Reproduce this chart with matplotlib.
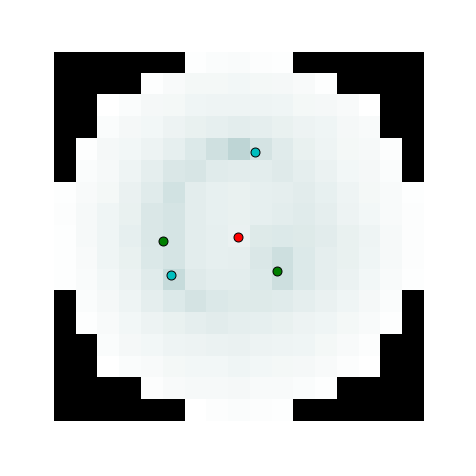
import numpy as np
import matplotlib
matplotlib.use('Agg')
import matplotlib.pyplot as plt

# grid density (None = outside the circle)
X = None
density_rows = [
    [X, X, X, X, X, X, 2, 5, 6, 3, 2, X, X, X, X, X, X],
    [X, X, X, X, 2, 7, 11, 12, 13, 12, 10, 7, 2, X, X, X, X],
    [X, X, 0, 5, 10, 11, 15, 17, 17, 17, 15, 11, 10, 7, 1, X, X],
    [X, X, 5, 10, 13, 19, 22, 25, 28, 27, 23, 19, 15, 10, 7, X, X],
    [X, 2, 10, 13, 18, 25, 34, 48, 65, 43, 31, 22, 17, 12, 9, 3, X],
    [X, 5, 9, 17, 27, 37, 40, 31, 29, 28, 32, 26, 20, 13, 10, 5, X],
    [2, 7, 12, 21, 30, 45, 28, 24, 23, 25, 27, 29, 24, 17, 12, 8, 2],
    [3, 9, 15, 23, 37, 42, 28, 24, 23, 25, 28, 31, 26, 19, 13, 8, 3],
    [2, 9, 15, 25, 37, 41, 28, 25, 21, 33, 35, 33, 29, 23, 17, 9, 3],
    [2, 7, 15, 23, 36, 41, 28, 25, 27, 37, 49, 35, 27, 22, 15, 9, 3],
    [2, 6, 13, 20, 30, 56, 32, 28, 28, 35, 50, 35, 27, 20, 13, 7, 2],
    [X, 5, 10, 17, 26, 34, 43, 36, 33, 33, 30, 26, 21, 15, 10, 5, X],
    [X, 2, 7, 13, 19, 23, 27, 29, 27, 25, 23, 19, 15, 11, 7, 2, X],
    [X, X, 5, 10, 13, 17, 19, 20, 21, 19, 17, 15, 12, 8, 3, X, X],
    [X, X, 0, 5, 8, 11, 13, 13, 15, 13, 12, 10, 7, 3, 0, X, X],
    [X, X, X, X, 3, 7, 9, 9, 10, 8, 7, 5, 2, X, X, X, X],
    [X, X, X, X, X, X, 1, 3, 5, 3, 2, X, X, X, X, X, X],
]

center = (8.0, 8.05)
green_x = [4.55, 9.79]
green_y = [8.23, 9.61]
cyan_x = [8.78, 4.91]
cyan_y = [4.13, 9.79]

grid = np.array([[np.nan if v is None else v for v in row] for row in density_rows], dtype=float)
grid = np.ma.masked_invalid(grid)

cmap = plt.get_cmap('bone_r').copy()
cmap.set_bad('black')

fig = plt.figure(figsize=(4.77, 4.77), dpi=100)
ax = fig.add_axes([53.7 / 477, 55 / 477, 369.3 / 477, 369.3 / 477])
ax.imshow(grid, cmap=cmap, vmin=0, vmax=348, interpolation='nearest', aspect='auto')

ax.scatter(green_x, green_y, s=42, c='green', edgecolors='black', linewidths=0.7, zorder=3)
ax.scatter(cyan_x, cyan_y, s=42, c='c', edgecolors='black', linewidths=0.7, zorder=3)
ax.scatter([center[0]], [center[1]], s=42, c='red', edgecolors='black', linewidths=0.7, zorder=3)

ax.set_xlim(-0.5, 16.5)
ax.set_ylim(16.5, -0.5)
ax.axis('off')

fig.savefig('out.png', dpi=100)
